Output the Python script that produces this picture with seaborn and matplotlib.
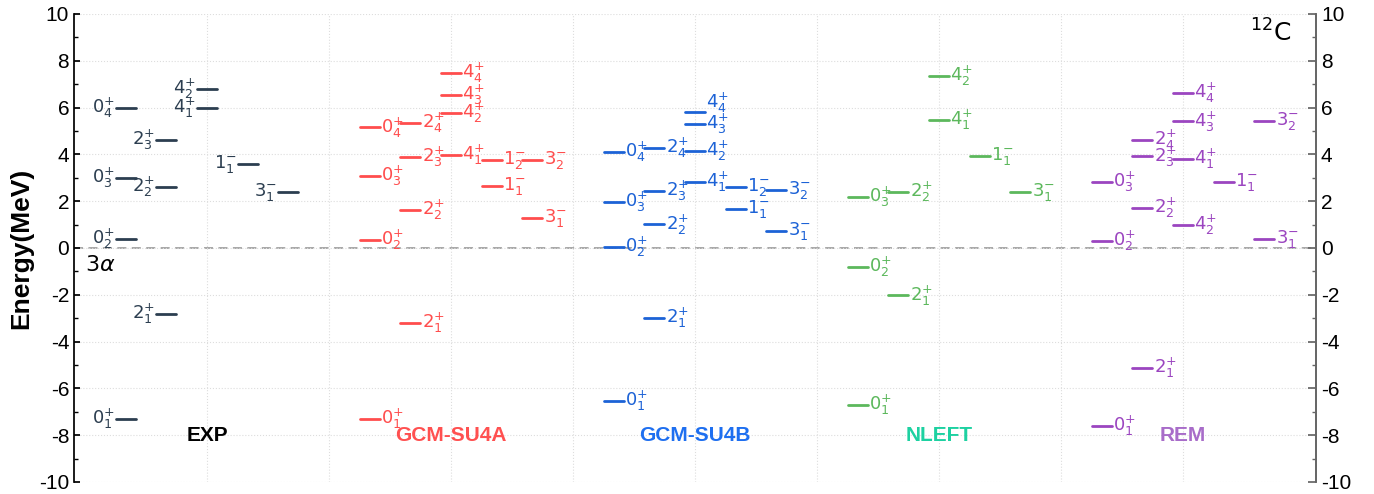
"""
Espectro de niveles de 12C: EXP frente a GCM-SU4A, GCM-SU4B, NLEFT y REM.
Energías relativas al umbral 3alpha.
"""

import numpy as np
import pandas as pd
import matplotlib
matplotlib.use("Agg")
import matplotlib.pyplot as plt
import seaborn as sns

# =========================================================================
# DATOS (energías en MeV, leídas del esquema de niveles)
# estado: "J paridad índice" -> "0+1" = 0_1^+
# =========================================================================
modelos = ["EXP", "GCM-SU4A", "GCM-SU4B", "NLEFT", "REM"]

exp_estados = ["0+1", "0+2", "0+3", "0+4", "2+1", "2+2", "2+3", "4+1", "4+2", "1-1", "3-1"]
exp_energia = [-7.30, 0.38, 3.00, 6.00, -2.82, 2.60, 4.60, 6.00, 6.80, 3.59, 2.40]

su4a_estados = ["0+1", "0+2", "0+3", "0+4", "2+1", "2+2", "2+3", "2+4",
                "4+1", "4+2", "4+3", "4+4", "1-1", "1-2", "3-1", "3-2"]
su4a_energia = [-7.30, 0.36, 3.07, 5.15, -3.20, 1.61, 3.89, 5.36,
                3.98, 5.78, 6.53, 7.49, 2.64, 3.74, 1.27, 3.77]

su4b_estados = ["0+1", "0+2", "0+3", "0+4", "2+1", "2+2", "2+3", "2+4",
                "4+1", "4+2", "4+3", "4+4", "1-1", "1-2", "3-1", "3-2"]
su4b_energia = [-6.52, 0.03, 1.97, 4.12, -2.98, 1.01, 2.44, 4.27,
                2.81, 4.15, 5.29, 5.79, 1.65, 2.62, 0.73, 2.47]

nleft_estados = ["0+1", "0+2", "0+3", "2+1", "2+2", "4+1", "4+2", "1-1", "3-1"]
nleft_energia = [-6.72, -0.81, 2.20, -2.03, 2.38, 5.49, 7.35, 3.94, 2.41]

rem_estados = ["0+1", "0+2", "0+3", "2+1", "2+2", "2+3", "2+4",
               "4+1", "4+2", "4+3", "4+4", "1-1", "3-1", "3-2"]
rem_energia = [-7.62, 0.30, 2.81, -5.12, 1.71, 3.91, 4.61,
               3.81, 1.00, 5.41, 6.62, 2.80, 0.38, 5.41]

# =========================================================================
# ESTILO
# =========================================================================
colores_nivel = {"EXP": "#2c3e50", "GCM-SU4A": "#ff4d4d", "GCM-SU4B": "#1c62d6",
                 "NLEFT": "#5cb85c", "REM": "#9b45c0"}
colores_titulo = {"EXP": "#000000", "GCM-SU4A": "#ff5050", "GCM-SU4B": "#1e6ff0",
                  "NLEFT": "#1dd1a1", "REM": "#a86cc9"}
columnas = ["0+", "2+", "4+", "1-", "3-"]   # orden de columnas dentro de cada bloque
semiancho = 0.082
# pequeños desplazamientos verticales de etiquetas para evitar solapes
ajuste_etiqueta = {("GCM-SU4B", "4+4"): 0.4}

# =========================================================================
# TABLA LARGA: dos puntos (inicio, fin) por nivel
# =========================================================================
datos = {"EXP": (exp_estados, exp_energia),
         "GCM-SU4A": (su4a_estados, su4a_energia),
         "GCM-SU4B": (su4b_estados, su4b_energia),
         "NLEFT": (nleft_estados, nleft_energia),
         "REM": (rem_estados, rem_energia)}

filas = []
for g, modelo in enumerate(modelos):
    estados, energias = datos[modelo]
    for est, e in zip(estados, energias):
        xc = 2 * g + (columnas.index(est[:2]) + 1) / 3
        for x in (xc - semiancho, xc + semiancho):
            filas.append({"modelo": modelo, "nivel": f"{modelo}_{est}",
                          "estado": est, "x": x, "xc": xc, "E": e})
df = pd.DataFrame(filas)

# =========================================================================
# FIGURA
# =========================================================================
sns.set_theme(style="white")
plt.rcParams["font.family"] = ["Liberation Sans", "DejaVu Sans"]
plt.rcParams["mathtext.fontset"] = "dejavusans"
plt.rcParams["axes.unicode_minus"] = False

fig = plt.figure(figsize=(13.74, 4.94), dpi=100)
ax = fig.add_axes([0.0539, 0.0243, 0.9039, 0.9474])

sns.lineplot(data=df, x="x", y="E", hue="modelo", units="nivel", estimator=None,
             palette=colores_nivel, legend=False, linewidth=2, ax=ax)

# etiquetas J^pi_n
for (modelo, est), sub in df.groupby(["modelo", "estado"]):
    e = sub["E"].iloc[0] + ajuste_etiqueta.get((modelo, est), 0)
    xc = sub["xc"].iloc[0]
    txt = rf"${est[0]}^{{{est[1]}}}_{{{est[2]}}}$"
    if est[1] == "-":
        txt = rf"${est[0]}^{{-}}_{{{est[2]}}}$"
    if modelo == "EXP":
        ax.text(xc - semiancho - 0.01, e, txt, ha="right", va="center",
                fontsize=13, color=colores_nivel[modelo])
    else:
        ax.text(xc + semiancho + 0.01, e, txt, ha="left", va="center",
                fontsize=13, color=colores_nivel[modelo])

# nombres de los modelos
for g, modelo in enumerate(modelos):
    ax.text(2 * g + 1, -8, modelo, ha="center", va="center", fontsize=15,
            fontweight="bold", color=colores_titulo[modelo])

# umbral 3alpha
ax.axhline(0, color="#a0a0a0", linestyle=(0, (5, 3)), linewidth=1.3, zorder=0)
ax.text(0.0, -0.75, r"$3\alpha$", fontsize=16, ha="left", va="center", color="black")
ax.text(9.72, 9.2, r"$^{12}$C", fontsize=18, ha="center", va="center",
        family=["DejaVu Sans"], color="black")

# ejes
ax.set_xlim(-0.09, 10.09)
ax.set_ylim(-10, 10)
ax.set_xticks(range(1, 10))
ax.set_xticklabels([])
ax.set_yticks(np.arange(-10, 11, 2))
ax.set_yticks(np.arange(-9, 10, 2), minor=True)
ax.tick_params(axis="x", length=0)
ax.tick_params(axis="y", which="both", direction="in", labelsize=15, colors="black")
ax.tick_params(axis="y", which="major", length=4)
ax.tick_params(axis="y", which="minor", length=3, left=True)
ax.set_xlabel("")
ax.set_ylabel("Energy(MeV)", fontsize=19, fontweight="bold", color="black")
ax.grid(True, which="major", linestyle=":", color="#dddddd", linewidth=0.8)
for lado in ["top", "bottom"]:
    ax.spines[lado].set_visible(False)
ax.spines["left"].set_color("black")
ax.spines["right"].set_color("#666666")

ax2 = ax.twinx()
ax2.set_ylim(-10, 10)
ax2.set_yticks(np.arange(-10, 11, 2))
ax2.set_yticks(np.arange(-9, 10, 2), minor=True)
ax2.tick_params(axis="y", which="both", direction="in", labelsize=15, colors="#666666",
                labelcolor="black")
ax2.tick_params(axis="y", which="minor", length=3)
for lado in ["top", "bottom", "left"]:
    ax2.spines[lado].set_visible(False)
ax2.spines["right"].set_color("#666666")
ax2.grid(False)

plt.savefig("out.png", dpi=100)
